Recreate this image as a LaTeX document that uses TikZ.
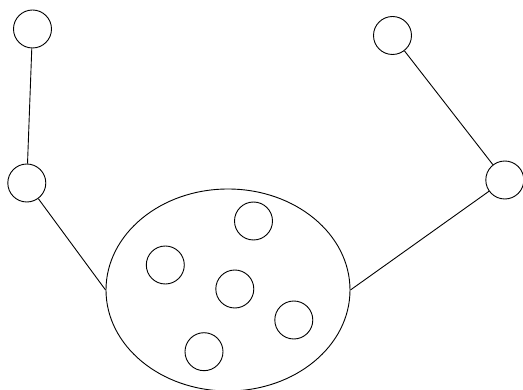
\documentclass[tikz,border=0pt]{standalone}
\usetikzlibrary{shapes.geometric}
\begin{document}
\begin{tikzpicture}[x=1pt,y=-1pt,
  dot/.style={draw,circle,minimum size=38pt,inner sep=0pt,line width=0.9pt},
  blob/.style={draw,ellipse,minimum width=244pt,minimum height=202pt,inner sep=0pt,line width=0.9pt},
  link/.style={line width=0.9pt}]
\useasboundingbox (0,0) rectangle (523,390);
\node[dot] (tl) at (32.5,29) {};
\node[dot] (ml) at (26.8,183) {};
\node[dot] (tr) at (392.5,35.5) {};
\node[dot] (mr) at (504.8,180) {};
\node[blob] (E) at (228,290) {};
\node[dot] (i1) at (253.5,221) {};
\node[dot] (i2) at (165.3,265) {};
\node[dot] (i3) at (234.8,289) {};
\node[dot] (i4) at (293.8,320) {};
\node[dot] (i5) at (204,351.7) {};
\draw[link] (tl) -- (ml);
\draw[link] (ml) -- (E.west);
\draw[link] (tr) -- (mr);
\draw[link] (mr) -- (E.east);
\end{tikzpicture}
\end{document}
